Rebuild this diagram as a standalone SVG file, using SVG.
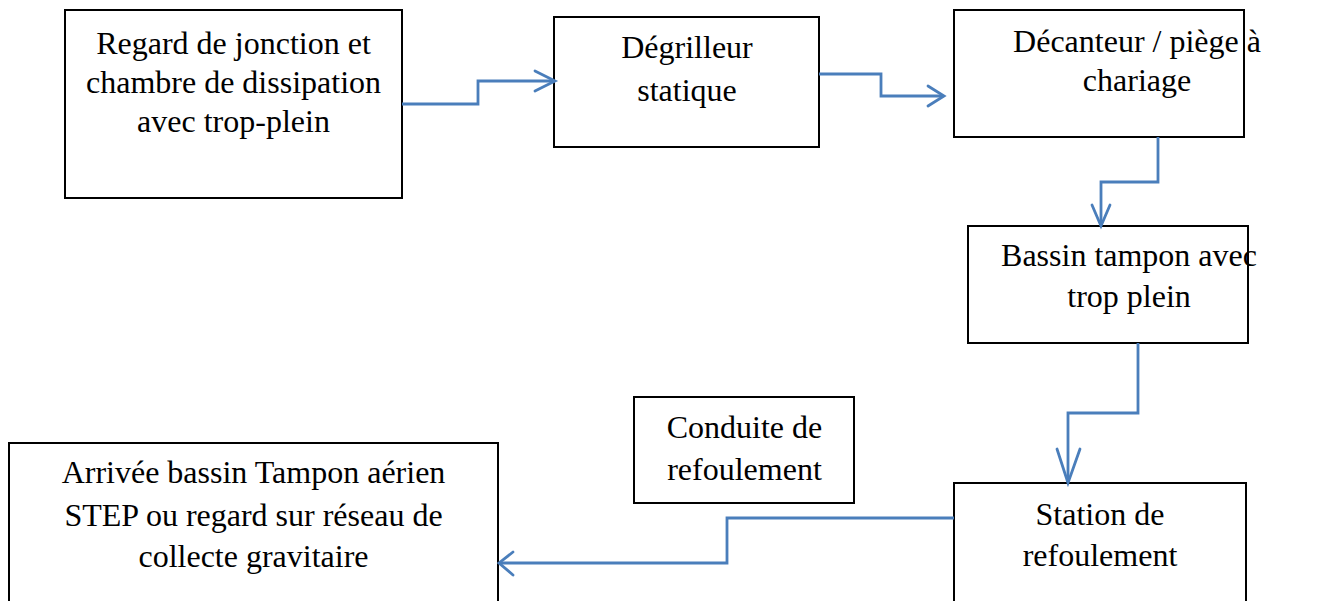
<svg xmlns="http://www.w3.org/2000/svg" width="1324" height="601" viewBox="0 0 1324 601">
  <style>
    .box { fill: #ffffff; stroke: #000000; stroke-width: 2; }
    .lbl { font-family: "Liberation Serif", "Times New Roman", serif; font-size: 32px; fill: #000000; text-anchor: middle; }
    .flow { fill: none; stroke: #4a7ebb; stroke-width: 2.8; stroke-linejoin: miter; }
    .head { fill: none; stroke: #4a7ebb; stroke-width: 2.8; stroke-linecap: round; stroke-linejoin: miter; }
  </style>
  <rect width="1324" height="601" fill="#ffffff"/>

  <g id="regard-jonction">
    <rect class="box" x="65" y="10" width="337" height="188"/>
    <text class="lbl" x="233.5" y="54">Regard de jonction et</text>
    <text class="lbl" x="233.5" y="93">chambre de dissipation</text>
    <text class="lbl" x="233.5" y="132">avec trop-plein</text>
  </g>

  <g id="degrilleur">
    <rect class="box" x="554" y="17" width="265" height="130"/>
    <text class="lbl" x="687" y="58">Dégrilleur</text>
    <text class="lbl" x="687" y="101">statique</text>
  </g>

  <g id="decanteur">
    <rect class="box" x="954" y="10" width="290" height="127"/>
    <text class="lbl" x="1137" y="52">Décanteur / piège à</text>
    <text class="lbl" x="1137" y="91">chariage</text>
  </g>

  <g id="bassin-tampon">
    <rect class="box" x="968" y="226" width="280" height="117"/>
    <text class="lbl" x="1129" y="266">Bassin tampon avec</text>
    <text class="lbl" x="1129" y="307">trop plein</text>
  </g>

  <g id="conduite">
    <rect class="box" x="634" y="397" width="220" height="106"/>
    <text class="lbl" x="744.5" y="438">Conduite de</text>
    <text class="lbl" x="744.5" y="480">refoulement</text>
  </g>

  <g id="station">
    <rect class="box" x="954" y="483" width="292" height="140"/>
    <text class="lbl" x="1100" y="525">Station de</text>
    <text class="lbl" x="1100" y="566">refoulement</text>
  </g>

  <g id="arrivee">
    <rect class="box" x="9" y="443" width="489" height="180"/>
    <text class="lbl" x="253.5" y="483">Arrivée bassin Tampon aérien</text>
    <text class="lbl" x="253.5" y="526">STEP ou regard sur réseau de</text>
    <text class="lbl" x="253.5" y="567">collecte gravitaire</text>
  </g>

  <g id="connectors">
    <path class="flow" d="M402,104 H478 V81 H554"/>
    <polyline class="head" points="535,71 555,81 535,91"/>

    <path class="flow" d="M819,74 H881 V96 H943"/>
    <polyline class="head" points="928,86 944,96 928,106"/>

    <path class="flow" d="M1158,137 V182 H1101 V225"/>
    <polyline class="head" points="1092,205 1101,226 1110,205"/>

    <path class="flow" d="M1138,343 V413 H1068 V482"/>
    <polyline class="head" points="1057,449 1068,483 1080,449"/>

    <path class="flow" d="M954,518 H727 V563 H500"/>
    <polyline class="head" points="513,552 499,563 513,575"/>
  </g>
</svg>
